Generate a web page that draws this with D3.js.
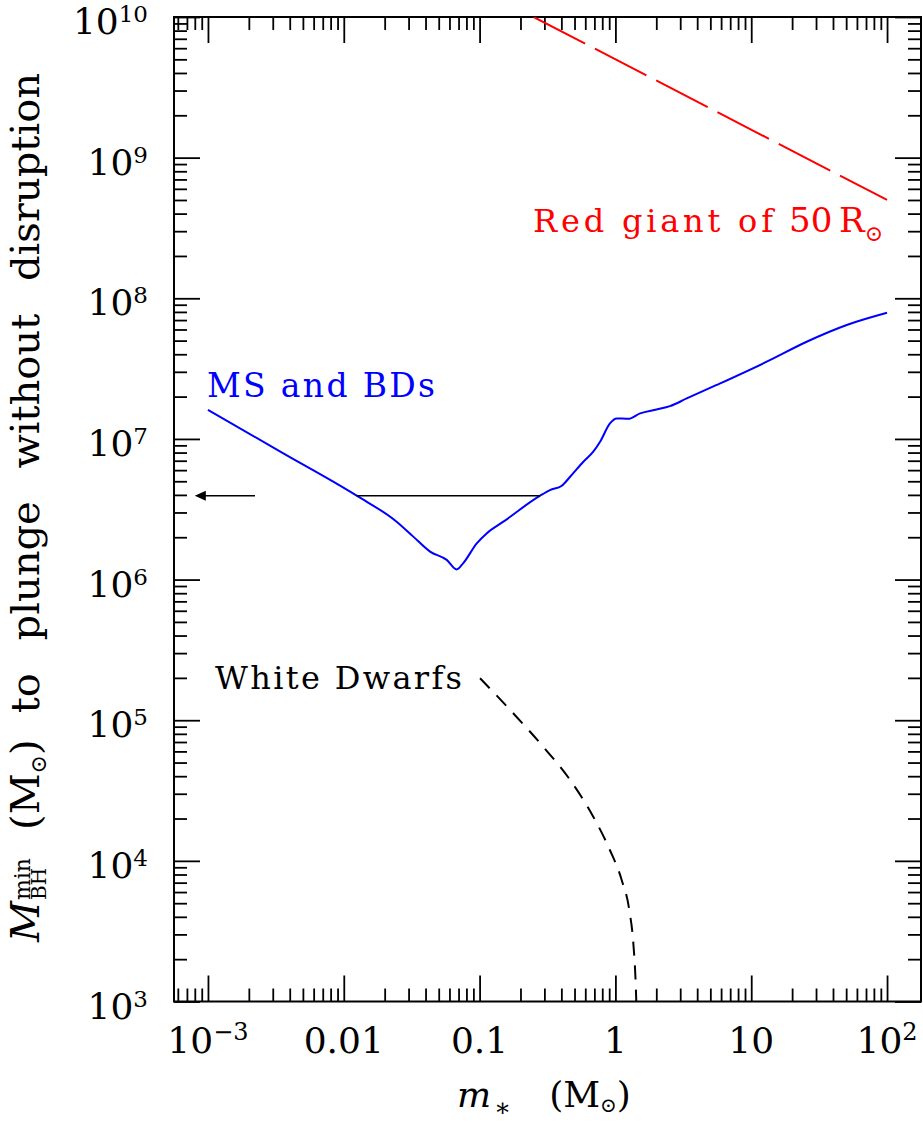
<!DOCTYPE html>
<html>
<head>
<meta charset="utf-8">
<script src="https://cdn.jsdelivr.net/npm/d3@7"></script>
<style>
  body { margin: 0; background: #fff; }
  svg { display: block; }
</style>
</head>
<body>
<svg id="chart" width="923" height="1123"></svg>
<script>
// ---------- data ----------

// main sequence stars + brown dwarfs (blue solid)
const msMass = [0.001, 0.00351, 0.01245, 0.0245, 0.0325, 0.0432, 0.0573, 0.0678, 0.0759, 0.0953,
  0.1127, 0.1497, 0.279, 0.330, 0.403, 0.464, 0.581, 0.687, 0.771, 0.912,
  1.02, 1.245, 1.52, 2.01, 2.52, 3.35, 5.57, 13.0, 25.6, 50.5, 100];
const msMbh = [1.61e7, 8.0e6, 3.95e6, 2.58e6, 2.02e6, 1.58e6, 1.38e6, 1.18e6, 1.31e6, 1.81e6,
  2.13e6, 2.58e6, 3.95e6, 4.33e6, 4.65e6, 5.38e6, 6.88e6, 8.11e6, 9.55e6, 1.29e7,
  1.40e7, 1.39e7, 1.52e7, 1.62e7, 1.71e7, 1.94e7, 2.42e7, 3.54e7, 4.91e7, 6.46e7, 7.89e7];

// white dwarfs (black short dashes)
const wdMass = [0.1007, 0.177, 0.294, 0.464, 0.687, 0.912, 1.112, 1.265, 1.355, 1.41, 1.425];
const wdMbh = [1.99e5, 1.12e5, 6.48e4, 3.76e4, 2.06e4, 1.19e4, 7.31e3, 4.47e3, 2.59e3, 1.35e3, 1e3];

// red giant of 50 Rsun (red long dashes)
const rgMass = [0.25, 100];
const rgMbh = [1e10, 5e8];

// horizontal level line + arrow
const levelMass = [0.01245, 0.279];
const levelMbh = 3.95e6;
const arrowMass = [2.22e-3, 8.0e-4]; // tail, tip

// axes
const xDomain = [Math.pow(10, -3.25), Math.pow(10, 2.25)];
const yDomain = [1e3, 1e10];
const xMajor = [1e-3, 0.01, 0.1, 1, 10, 100];
const xTickBase = ["10", "0.01", "0.1", "1", "10", "10"];
const xTickExp = ["\u22123", "", "", "", "", "2"];
const yMajor = [1e3, 1e4, 1e5, 1e6, 1e7, 1e8, 1e9, 1e10];
const yTickBase = ["10", "10", "10", "10", "10", "10", "10", "10"];
const yTickExp = ["3", "4", "5", "6", "7", "8", "9", "10"];

// ---------- layout ----------
const X0 = 174, X1 = 921, Y0 = 1001.5, Y1 = 17;
const serif = "DejaVu Serif, DejaVu Sans, serif";

const svg = d3.select("#chart");

const x = d3.scaleLog().domain(xDomain).range([X0, X1]);
const y = d3.scaleLog().domain(yDomain).range([Y0, Y1]);

// minor ticks: 2..9 inside each decade, kept inside the domain
function minorTicks(domain) {
  const out = [];
  const lo = Math.floor(Math.log10(domain[0])), hi = Math.ceil(Math.log10(domain[1]));
  for (let e = lo; e < hi; e++) {
    for (let k = 2; k <= 9; k++) {
      const v = k * Math.pow(10, e);
      if (v >= domain[0] && v <= domain[1]) out.push(v);
    }
  }
  return out;
}
const xMinor = minorTicks(xDomain);
const yMinor = minorTicks(yDomain);

function tickAxis(axisFn, scale, values, size, transform) {
  const g = svg.append("g")
    .attr("transform", transform)
    .call(axisFn(scale).tickValues(values).tickSize(-size).tickFormat(""));
  g.select(".domain").remove();
  g.selectAll(".tick line").attr("stroke", "#000").attr("stroke-width", 1.8);
  return g;
}

tickAxis(d3.axisBottom, x, xMajor, 26, `translate(0,${Y0})`);
tickAxis(d3.axisBottom, x, xMinor, 13, `translate(0,${Y0})`);
tickAxis(d3.axisTop, x, xMajor, 26, `translate(0,${Y1})`);
tickAxis(d3.axisTop, x, xMinor, 13, `translate(0,${Y1})`);
tickAxis(d3.axisLeft, y, yMajor, 26, `translate(${X0},0)`);
tickAxis(d3.axisLeft, y, yMinor, 13, `translate(${X0},0)`);
tickAxis(d3.axisRight, y, yMajor, 26, `translate(${X1},0)`);
tickAxis(d3.axisRight, y, yMinor, 13, `translate(${X1},0)`);

// frame
svg.append("rect")
  .attr("x", X0).attr("y", Y1)
  .attr("width", X1 - X0).attr("height", Y0 - Y1)
  .attr("fill", "none").attr("stroke", "#000").attr("stroke-width", 2);

// tick labels
const xl = svg.append("g").attr("font-family", serif).attr("font-size", 36).attr("fill", "#000");
xMajor.forEach((v, i) => {
  const t = xl.append("text").attr("x", x(v)).attr("y", 1053).attr("text-anchor", "middle");
  t.append("tspan").text(xTickBase[i]);
  if (xTickExp[i]) t.append("tspan").attr("font-size", 24).attr("dy", -13).text(xTickExp[i]);
});

const yl = svg.append("g").attr("font-family", serif).attr("font-size", 36).attr("fill", "#000");
yMajor.forEach((v, i) => {
  const t = yl.append("text").attr("x", 148).attr("y", y(v) + 17).attr("text-anchor", "end");
  t.append("tspan").text(yTickBase[i]);
  t.append("tspan").attr("font-size", 23).attr("dy", -12).text(yTickExp[i]);
});

// ---------- curves ----------
const plot = svg.append("g").attr("clip-path", "url(#clip)");
svg.append("clipPath").attr("id", "clip").append("rect")
  .attr("x", X0).attr("y", Y1).attr("width", X1 - X0).attr("height", Y0 - Y1);

const line = d3.line()
  .x(d => x(d[0]))
  .y(d => y(d[1]))
  .curve(d3.curveMonotoneX);

plot.append("path")
  .attr("d", line(d3.zip(msMass, msMbh)))
  .attr("fill", "none").attr("stroke", "#0000ff").attr("stroke-width", 2);

plot.append("path")
  .attr("d", line(d3.zip(wdMass, wdMbh)))
  .attr("fill", "none").attr("stroke", "#000").attr("stroke-width", 2)
  .attr("stroke-dasharray", "14,10");

plot.append("path")
  .attr("d", d3.line().x(d => x(d[0])).y(d => y(d[1]))(d3.zip(rgMass, rgMbh)))
  .attr("fill", "none").attr("stroke", "#ff0000").attr("stroke-width", 2)
  .attr("stroke-dasharray", "58,11");

// horizontal level
plot.append("line")
  .attr("x1", x(levelMass[0])).attr("x2", x(levelMass[1]))
  .attr("y1", y(levelMbh)).attr("y2", y(levelMbh))
  .attr("stroke", "#000").attr("stroke-width", 1.5);

// arrow pointing to the axis
const ay = y(levelMbh), tipX = x(arrowMass[1]), tailX = x(arrowMass[0]);
plot.append("line")
  .attr("x1", tailX).attr("x2", tipX + 8)
  .attr("y1", ay).attr("y2", ay)
  .attr("stroke", "#000").attr("stroke-width", 1.5);
plot.append("path")
  .attr("d", `M${tipX},${ay}L${tipX + 11},${ay - 5}L${tipX + 11},${ay + 5}Z`)
  .attr("fill", "#000");

// ---------- annotations ----------
// typewriter-like labels: serif with stretched spacing
function label(txt, x0, y0, len, size, color) {
  return svg.append("text")
    .attr("x", x0).attr("y", y0)
    .attr("font-family", serif).attr("font-size", size).attr("fill", color)
    .attr("textLength", len).attr("lengthAdjust", "spacing")
    .text(txt);
}
label("MS and BDs", 207, 397, 228, 33, "#0000ff");
label("White Dwarfs", 215, 689, 247, 32, "#000");
label("Red giant of", 533, 232, 240, 32, "#ff0000");

const rg = svg.append("text")
  .attr("x", 789).attr("y", 232).attr("fill", "#ff0000")
  .attr("font-family", serif).attr("font-size", 34);
rg.append("tspan").text("50\u2009R");
rg.append("tspan").attr("font-size", 22).attr("dy", 9).text("\u2299");

// ---------- axis titles ----------
// pieces are chained along the baseline; stacked pieces share a start
function chain(g, pieces, fontSize) {
  let cx = 0, stackW = 0;
  pieces.forEach(p => {
    if (p.gap) cx += p.gap;
    const t = g.append("text")
      .attr("x", cx).attr("y", p.dy || 0)
      .attr("font-family", serif)
      .attr("font-size", p.size || fontSize)
      .attr("font-style", p.italic ? "italic" : "normal")
      .attr("word-spacing", p.ws || 0)
      .attr("fill", "#000")
      .text(p.t);
    const w = t.node().getComputedTextLength() + (p.ws || 0) * ((p.t.match(/ /g) || []).length);
    if (p.stack) {
      stackW = Math.max(stackW, w);
    } else {
      cx += Math.max(w, stackW);
      stackW = 0;
    }
  });
}

const yTitle = svg.append("g").attr("transform", "translate(39,942) rotate(-90)");
chain(yTitle, [
  { t: "M", italic: true },
  { t: "min", size: 22, dy: -9, gap: 1, stack: true },
  { t: "BH", size: 20, dy: 7 },
  { t: "(M", gap: 28 },
  { t: "\u2299", size: 22, dy: 7 },
  { t: ")" },
  { t: "to plunge without disruption", gap: 26, ws: 20 }
], 40);

const xTitle = svg.append("g").attr("transform", "translate(457,1107)");
chain(xTitle, [
  { t: "m", italic: true },
  { t: "\u2217", size: 25, dy: 9, gap: 3 },
  { t: "(M", gap: 38 },
  { t: "\u2299", size: 20, dy: 5 },
  { t: ")" }
], 36);
</script>
</body>
</html>
